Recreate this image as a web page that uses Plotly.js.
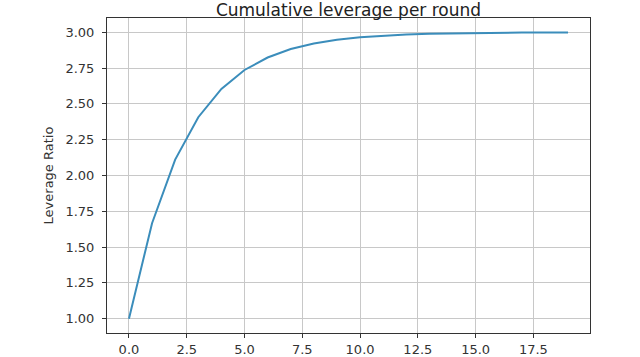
<!DOCTYPE html>
<html><head><meta charset="utf-8">
<script src="https://cdn.plot.ly/plotly-3.0.1.min.js"></script>
<style>html,body{margin:0;padding:0;background:#fff;}#chart{width:640px;height:357px;}</style>
</head><body><div id="chart"></div>
<script>
const rounds = [0,1,2,3,4,5,6,7,8,9,10,11,12,13,14,15,16,17,18,19];
const leverage = [1.000,1.667,2.111,2.407,2.605,2.737,2.824,2.883,2.922,2.948,2.965,2.977,2.985,2.990,2.993,2.995,2.997,2.998,2.999,2.999];
const yTicks = [1.00,1.25,1.50,1.75,2.00,2.25,2.50,2.75,3.00];
const xTicks = [0,2.5,5,7.5,10,12.5,15,17.5];

const trace = {x: rounds, y: leverage, mode:'lines', type:'scatter',
  line:{color:'#3b8dbb', width:2}, hoverinfo:'skip'};
const layout = {
  width:640, height:357,
  margin:{l:107, r:50, t:18, b:24, pad:0},
  paper_bgcolor:'#fff', plot_bgcolor:'#fff',
  font:{family:'DejaVu Sans', size:13, color:'#222'},
  title:{text:'Cumulative leverage per round', font:{size:17, color:'#222'}, x:0.5, xref:'paper', xanchor:'center', y:0.972, yanchor:'middle', yref:'container'},
  showlegend:false,
  xaxis:{range:[-0.95,19.95], tickvals:xTicks, ticktext:xTicks.map(v=>v.toFixed(1)),
    showgrid:true, gridcolor:'#c8c8c8', gridwidth:1, zeroline:false,
    showline:true, mirror:true, linecolor:'#333', linewidth:1,
    ticks:'outside', ticklen:4, tickcolor:'#333', ticklabelstandoff:0, tickfont:{size:13, color:'#333'}},
  yaxis:{range:[0.9,3.1], tickvals:yTicks, ticktext:yTicks.map(v=>v.toFixed(2)),
    showgrid:true, gridcolor:'#c8c8c8', gridwidth:1, zeroline:false,
    showline:true, mirror:true, linecolor:'#333', linewidth:1,
    ticks:'outside', ticklen:4, tickcolor:'#333', ticklabelstandoff:5, tickfont:{size:13, color:'#333'},
    title:{text:'Leverage Ratio', font:{size:13, color:'#333'}, standoff:8}}
};
Plotly.newPlot('chart',[trace],layout,{staticPlot:true, displayModeBar:false});
</script></body></html>
